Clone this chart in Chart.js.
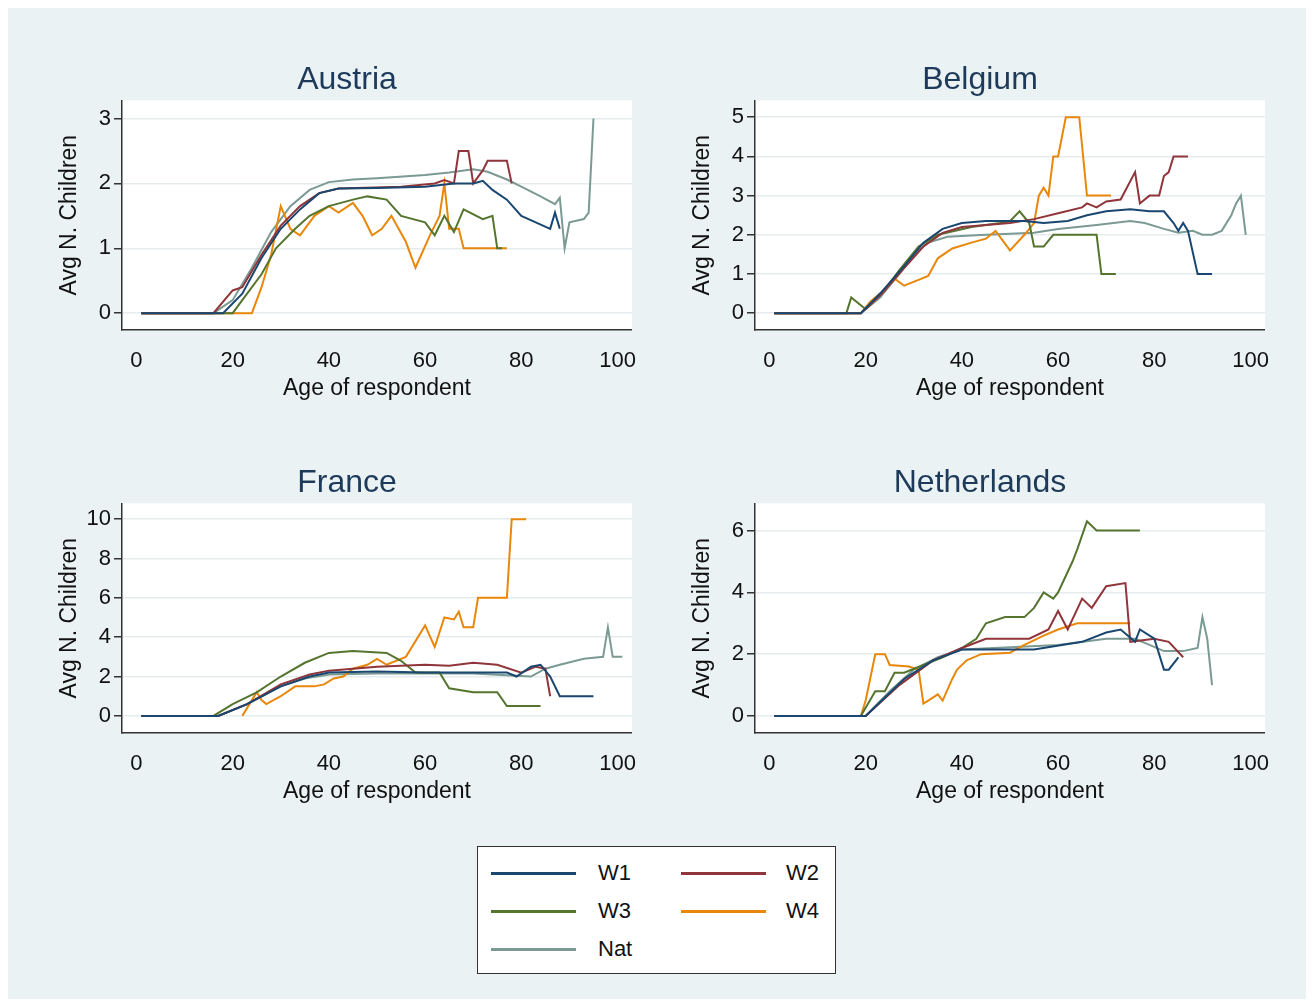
<!DOCTYPE html>
<html><head><meta charset="utf-8">
<script src="https://cdn.jsdelivr.net/npm/chart.js@4.4.1/dist/chart.umd.min.js"></script>
<style>
body{margin:0;background:#fff;font-family:"Liberation Sans",Arial,sans-serif}
#bg{position:absolute;left:8px;top:8px;width:1298px;height:991px;background:#eaf2f3}
.pc{position:absolute}
#legend{position:absolute;left:477px;top:846px;width:359px;height:128px;background:#fff;border:1.5px solid #333;box-sizing:border-box}
.li{position:absolute;font-size:22px;color:#111}
.ln{position:absolute;height:0;border-top:3px solid}
</style></head><body>
<div id="bg"></div>
<div class="pc" style="left:40px;top:52px;width:606px;height:360px"><canvas id="c0"></canvas></div>
<div class="pc" style="left:673px;top:52px;width:606px;height:360px"><canvas id="c1"></canvas></div>
<div class="pc" style="left:40px;top:455px;width:606px;height:360px"><canvas id="c2"></canvas></div>
<div class="pc" style="left:673px;top:455px;width:606px;height:360px"><canvas id="c3"></canvas></div>
<div id="legend">
<div class="ln" style="left:13px;top:25px;width:85px;border-color:#1a476f"></div><div class="li" style="left:120px;top:13px">W1</div>
<div class="ln" style="left:203px;top:25px;width:85px;border-color:#90353b"></div><div class="li" style="left:308px;top:13px">W2</div>
<div class="ln" style="left:13px;top:63px;width:85px;border-color:#55752f"></div><div class="li" style="left:120px;top:51px">W3</div>
<div class="ln" style="left:203px;top:63px;width:85px;border-color:#e8870a"></div><div class="li" style="left:308px;top:51px">W4</div>
<div class="ln" style="left:13px;top:101px;width:85px;border-color:#7a9a93"></div><div class="li" style="left:120px;top:89px">Nat</div>
</div>
<script>
const seriesNames=["W1","W2","W3","W4","Nat"];
const colors=["#1a476f","#90353b","#55752f","#e8870a","#7a9a93"];
const countries=["Austria","Belgium","France","Netherlands"];
const xTicks=[0,20,40,60,80,100];
const yTicksAT=[0,1,2,3], yTicksBE=[0,1,2,3,4,5], yTicksFR=[0,2,4,6,8,10], yTicksNL=[0,2,4,6];

const at_w1=[[1,0],[18,0],[22,0.3],[26,0.85],[30,1.3],[34,1.6],[38,1.85],[42,1.92],[50,1.93],[60,1.95],[66,2.0],[70,2.0],[72,2.04],[74,1.9],[77,1.75],[80,1.5],[83,1.4],[86,1.3],[87,1.55],[88,1.3]];
const at_w2=[[1,0],[16,0],[20,0.35],[22,0.4],[26,0.9],[30,1.35],[34,1.65],[38,1.85],[42,1.92],[55,1.95],[62,2.0],[64,2.05],[66,2.0],[67,2.5],[69,2.5],[70,2.0],[72,2.2],[73,2.35],[77,2.35],[78,2.0]];
const at_w3=[[1,0],[20,0],[23,0.3],[26,0.6],[29,1.0],[33,1.3],[36,1.5],[40,1.65],[45,1.75],[48,1.8],[52,1.75],[55,1.5],[60,1.4],[62,1.2],[64,1.5],[66,1.25],[68,1.6],[72,1.45],[74,1.5],[75,1.0],[76,1.0]];
const at_w4=[[1,0],[24,0],[26,0.4],[28,0.9],[30,1.65],[32,1.3],[34,1.2],[37,1.5],[40,1.65],[42,1.55],[45,1.7],[47,1.5],[49,1.2],[51,1.3],[53,1.5],[56,1.1],[58,0.7],[61,1.2],[63,1.5],[64,2.0],[65,1.3],[67,1.3],[68,1.0],[77,1.0]];
const at_nat=[[1,0],[16,0],[20,0.2],[24,0.7],[28,1.25],[32,1.65],[36,1.9],[40,2.02],[45,2.06],[50,2.08],[60,2.13],[65,2.17],[70,2.22],[73,2.18],[77,2.06],[80,1.95],[84,1.8],[87,1.68],[88,1.78],[89,1.0],[90,1.4],[93,1.45],[94,1.55],[95,3]];

const be_w1=[[1,0],[19,0],[23,0.5],[28,1.2],[32,1.8],[36,2.15],[40,2.3],[45,2.35],[53,2.35],[57,2.3],[62,2.35],[66,2.5],[70,2.6],[75,2.65],[79,2.6],[82,2.6],[84,2.3],[85,2.1],[86,2.3],[87,2.1],[89,1.0],[92,1.0]];
const be_w2=[[1,0],[19,0],[23,0.45],[28,1.15],[32,1.7],[36,2.05],[40,2.2],[45,2.25],[50,2.3],[55,2.4],[60,2.55],[65,2.7],[66,2.8],[68,2.7],[70,2.85],[73,2.9],[76,3.6],[77,2.8],[79,3.0],[81,3.0],[82,3.5],[83,3.6],[84,4.0],[87,4.0]];
const be_w3=[[1,0],[16,0],[17,0.4],[19,0.2],[20,0.1],[24,0.6],[27,1.1],[31,1.7],[35,2.0],[42,2.2],[48,2.3],[50,2.35],[52,2.6],[54,2.3],[55,1.7],[57,1.7],[59,2.0],[68,2.0],[69,1.0],[72,1.0]];
const be_w4=[[1,0],[19,0],[21,0.3],[24,0.6],[26,0.88],[28,0.7],[31,0.85],[33,0.95],[35,1.4],[38,1.65],[42,1.8],[45,1.9],[47,2.1],[50,1.6],[53,2.0],[55,2.3],[56,3.0],[57,3.2],[58,3.0],[59,4.0],[60,4.0],[61.6,5.0],[64.4,5.0],[66,3.0],[71,3.0]];
const be_nat=[[1,0],[19,0],[23,0.4],[27,1.0],[30,1.5],[33,1.8],[37,1.95],[45,2.0],[55,2.05],[60,2.15],[68,2.25],[75,2.35],[78,2.3],[82,2.15],[85,2.05],[88,2.1],[90,2.0],[92,2.0],[94,2.1],[96,2.5],[97,2.8],[98,3.0],[99,2.0]];

const fr_w1=[[1,0],[17,0],[23,0.6],[30,1.5],[36,2.0],[40,2.2],[50,2.25],[60,2.2],[70,2.2],[77,2.2],[79,2.0],[82,2.5],[84,2.6],[86,2.0],[88,1.0],[95,1.0]];
const fr_w2=[[1,0],[17,0],[23,0.6],[30,1.6],[36,2.1],[40,2.3],[50,2.5],[60,2.6],[65,2.55],[70,2.7],[75,2.6],[80,2.2],[83,2.5],[85,2.4],[86,1.0]];
const fr_w3=[[1,0],[16,0],[20,0.6],[25,1.2],[30,2.0],[35,2.7],[40,3.2],[45,3.3],[52,3.2],[55,2.8],[58,2.2],[63,2.2],[65,1.4],[70,1.2],[75,1.2],[77,0.5],[84,0.5]];
const fr_w4=[[22,0],[24,0.8],[25,1.2],[26,0.8],[27,0.6],[30,1.0],[33,1.5],[37,1.5],[39,1.6],[41,1.9],[43,2.0],[45,2.4],[48,2.6],[50,2.9],[52,2.6],[56,3.0],[60,4.6],[62,3.5],[64,5.0],[66,4.9],[67,5.3],[68,4.5],[70,4.5],[71,6.0],[77,6.0],[78,10],[81,10]];
const fr_nat=[[1,0],[17,0],[23,0.6],[30,1.5],[35,1.9],[40,2.1],[50,2.15],[60,2.15],[70,2.15],[82,2.0],[85,2.4],[88,2.6],[93,2.9],[97,3.0],[98,4.5],[99,3.0],[101,3.0]];

const nl_w1=[[1,0],[20,0],[24,0.6],[28,1.2],[34,1.8],[40,2.15],[55,2.15],[65,2.4],[70,2.7],[73,2.8],[76,2.4],[77,2.8],[80,2.5],[82,1.5],[83,1.5],[85,1.9]];
const nl_w2=[[1,0],[20,0],[27,1.0],[34,1.8],[40,2.2],[45,2.5],[50,2.5],[54,2.5],[58,2.8],[60,3.4],[62,2.8],[65,3.8],[67,3.5],[70,4.2],[74,4.3],[75,2.4],[80,2.5],[83,2.4],[86,1.9]];
const nl_w3=[[1,0],[19,0],[22,0.8],[24,0.8],[26,1.4],[28,1.4],[36,1.9],[40,2.2],[43,2.5],[45,3.0],[49,3.2],[53,3.2],[55,3.5],[57,4.0],[59,3.8],[60,4.0],[63,5.0],[64,5.4],[66,6.3],[68,6.0],[77,6.0]];
const nl_w4=[[1,0],[19,0],[20,0.5],[22,2.0],[24,2.0],[25,1.65],[29,1.6],[31,1.5],[32,0.4],[33,0.5],[35,0.7],[36,0.5],[38,1.2],[39,1.5],[41,1.8],[44,2.0],[50,2.05],[53,2.3],[57,2.6],[60,2.8],[64,3.0],[75,3.0]];
const nl_nat=[[1,0],[20,0],[25,0.8],[30,1.5],[35,1.9],[40,2.15],[60,2.3],[70,2.5],[76,2.5],[79,2.3],[82,2.1],[86,2.1],[89,2.2],[90,3.2],[91,2.5],[92,1.0]];

const panels=[
 {data:[at_w1,at_w2,at_w3,at_w4,at_nat],yt:yTicksAT,ymin:-0.26,ymax:3.28},
 {data:[be_w1,be_w2,be_w3,be_w4,be_nat],yt:yTicksBE,ymin:-0.43,ymax:5.43},
 {data:[fr_w1,fr_w2,fr_w3,fr_w4,fr_nat],yt:yTicksFR,ymin:-0.87,ymax:10.8},
 {data:[nl_w1,nl_w2,nl_w3,nl_w4,nl_nat],yt:yTicksNL,ymin:-0.55,ymax:6.88}
];
const whiteArea={id:'wa',beforeDraw(c){const a=c.chartArea,x=c.ctx;x.save();x.fillStyle='#fff';x.fillRect(a.left,a.top,a.right-a.left,a.bottom-a.top);x.restore();}};
const F="'Liberation Sans',Arial,sans-serif";
panels.forEach((p,i)=>{
 new Chart(document.getElementById('c'+i),{type:'line',
  data:{datasets:p.data.map((d,k)=>({label:seriesNames[k],data:d.map(v=>({x:v[0],y:v[1]})),borderColor:colors[k],borderWidth:2,pointRadius:0,tension:0,fill:false}))},
  options:{responsive:true,maintainAspectRatio:false,animation:false,
   layout:{padding:{left:12,right:4,top:0,bottom:10}},
   plugins:{legend:{display:false},tooltip:{enabled:false},
    title:{display:true,text:countries[i],color:'#1e3a5a',font:{family:F,size:32,weight:'normal',lineHeight:1.2},padding:{top:9,bottom:1}}},
   scales:{
    x:{type:'linear',min:-3,max:103,afterBuildTicks(s){s.ticks=xTicks.map(v=>({value:v}));},
     afterFit(s){s.height=72;},
     grid:{display:false,drawTicks:true,tickLength:8,tickColor:'#333'},border:{color:'#333',width:1.5},
     ticks:{color:'#111',font:{family:F,size:22},padding:10,maxRotation:0},
     title:{display:true,text:'Age of respondent',color:'#111',font:{family:F,size:23},padding:{top:0,bottom:0}}},
    y:{type:'linear',min:p.ymin,max:p.ymax,afterBuildTicks(s){s.ticks=p.yt.map(v=>({value:v}));},
     afterFit(s){s.width=70;},
     grid:{color:'#e6ecee',lineWidth:1.5,drawTicks:true,tickLength:8,tickColor:'#333'},border:{color:'#333',width:1.5},
     ticks:{color:'#111',font:{family:F,size:22},padding:3},
     title:{display:true,text:'Avg N. Children',color:'#111',font:{family:F,size:23},padding:{bottom:0}}}
   }},plugins:[whiteArea]});
});
</script></body></html>
